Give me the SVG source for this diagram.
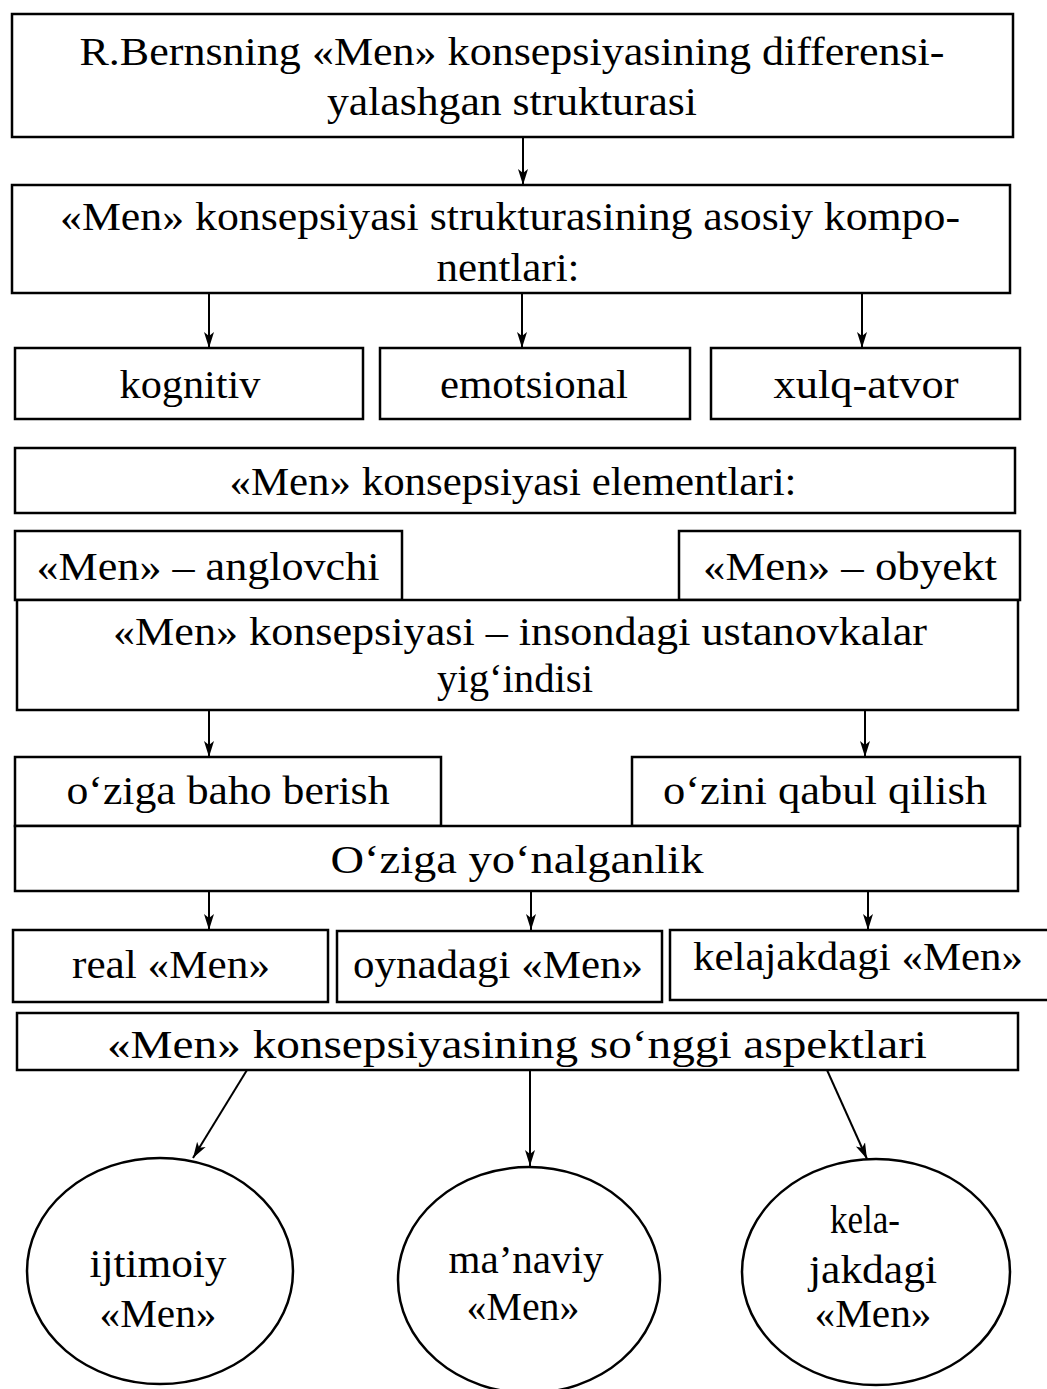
<svg xmlns="http://www.w3.org/2000/svg" width="1047" height="1389" viewBox="0 0 1047 1389">
<style>
.b{fill:#fff;stroke:#000;stroke-width:2.5}
.t{font-family:"Liberation Serif","Times New Roman",serif;font-size:41px;fill:#000;text-anchor:middle}
.c{stroke:#000;stroke-width:2;fill:none}
</style>
<defs>
<marker id="ah" markerUnits="userSpaceOnUse" markerWidth="16" markerHeight="16" refX="16" refY="8" orient="auto" viewBox="0 0 16 16">
<path d="M0,3 L16,8 L0,13 L4,8 Z" fill="#000"/>
</marker>
</defs>
<rect width="1047" height="1389" fill="#fff"/>
<g id="connectors">
<line class="c" x1="523" y1="137" x2="523" y2="185" marker-end="url(#ah)"/>
<line class="c" x1="209" y1="293" x2="209" y2="348" marker-end="url(#ah)"/>
<line class="c" x1="522" y1="293" x2="522" y2="348" marker-end="url(#ah)"/>
<line class="c" x1="862" y1="293" x2="862" y2="348" marker-end="url(#ah)"/>
<line class="c" x1="209" y1="710" x2="209" y2="757" marker-end="url(#ah)"/>
<line class="c" x1="865" y1="710" x2="865" y2="757" marker-end="url(#ah)"/>
<line class="c" x1="209" y1="891" x2="209" y2="930" marker-end="url(#ah)"/>
<line class="c" x1="531" y1="891" x2="531" y2="930" marker-end="url(#ah)"/>
<line class="c" x1="868" y1="891" x2="868" y2="930" marker-end="url(#ah)"/>
<line class="c" x1="247" y1="1070" x2="193" y2="1158" marker-end="url(#ah)"/>
<line class="c" x1="530" y1="1070" x2="530" y2="1166" marker-end="url(#ah)"/>
<line class="c" x1="827" y1="1070" x2="867" y2="1159" marker-end="url(#ah)"/>
</g>
<g id="n1"><rect class="b" x="12" y="14" width="1001" height="123"/>
<text class="t" x="512" y="65" textLength="865" lengthAdjust="spacingAndGlyphs">R.Bernsning «Men» konsepsiyasining differensi-</text>
<text class="t" x="512" y="115" textLength="370" lengthAdjust="spacingAndGlyphs">yalashgan strukturasi</text></g>
<g id="n2"><rect class="b" x="12" y="185" width="998" height="108"/>
<text class="t" x="510" y="230" textLength="900" lengthAdjust="spacingAndGlyphs">«Men» konsepsiyasi strukturasining asosiy kompo-</text>
<text class="t" x="508" y="281" textLength="143" lengthAdjust="spacingAndGlyphs">nentlari:</text></g>
<g id="n3"><rect class="b" x="15" y="348" width="348" height="71"/>
<text class="t" x="190" y="398" textLength="141" lengthAdjust="spacingAndGlyphs">kognitiv</text></g>
<g id="n4"><rect class="b" x="380" y="348" width="310" height="71"/>
<text class="t" x="534" y="398" textLength="188" lengthAdjust="spacingAndGlyphs">emotsional</text></g>
<g id="n5"><rect class="b" x="711" y="348" width="309" height="71"/>
<text class="t" x="866" y="398" textLength="185" lengthAdjust="spacingAndGlyphs">xulq-atvor</text></g>
<g id="n6"><rect class="b" x="15" y="448" width="1000" height="65"/>
<text class="t" x="513" y="495" textLength="567" lengthAdjust="spacingAndGlyphs">«Men» konsepsiyasi elementlari:</text></g>
<g id="n7"><rect class="b" x="15" y="531" width="387" height="69"/>
<text class="t" x="208" y="580" textLength="343" lengthAdjust="spacingAndGlyphs">«Men» – anglovchi</text></g>
<g id="n8"><rect class="b" x="679" y="531" width="341" height="69"/>
<text class="t" x="850" y="580" textLength="294" lengthAdjust="spacingAndGlyphs">«Men» – obyekt</text></g>
<g id="n9"><rect class="b" x="17" y="600" width="1001" height="110"/>
<text class="t" x="520" y="645" textLength="814" lengthAdjust="spacingAndGlyphs">«Men» konsepsiyasi – insondagi ustanovkalar</text>
<text class="t" x="515" y="692" textLength="156" lengthAdjust="spacingAndGlyphs">yig‘indisi</text></g>
<g id="n10"><rect class="b" x="15" y="757" width="426" height="69"/>
<text class="t" x="228" y="804" textLength="323" lengthAdjust="spacingAndGlyphs">o‘ziga baho berish</text></g>
<g id="n11"><rect class="b" x="632" y="757" width="388" height="69"/>
<text class="t" x="825" y="804" textLength="324" lengthAdjust="spacingAndGlyphs">o‘zini qabul qilish</text></g>
<g id="n12"><rect class="b" x="15" y="826" width="1003" height="65"/>
<text class="t" x="517" y="873" textLength="373" lengthAdjust="spacingAndGlyphs">O‘ziga yo‘nalganlik</text></g>
<g id="n13"><rect class="b" x="13" y="930" width="315" height="72"/>
<text class="t" x="171" y="978" textLength="198" lengthAdjust="spacingAndGlyphs">real «Men»</text></g>
<g id="n14"><rect class="b" x="337" y="931" width="325" height="71"/>
<text class="t" x="498" y="978" textLength="290" lengthAdjust="spacingAndGlyphs">oynadagi «Men»</text></g>
<g id="n15"><rect class="b" x="670" y="930" width="390" height="70"/>
<text class="t" x="858" y="970" textLength="330" lengthAdjust="spacingAndGlyphs">kelajakdagi «Men»</text></g>
<g id="n16"><rect class="b" x="17" y="1013" width="1001" height="57"/>
<text class="t" x="517" y="1058" textLength="820" lengthAdjust="spacingAndGlyphs">«Men» konsepsiyasining so‘nggi aspektlari</text></g>
<g id="n17"><ellipse class="b" cx="160" cy="1271" rx="133" ry="113"/>
<text class="t" x="158" y="1277" textLength="137" lengthAdjust="spacingAndGlyphs">ijtimoiy</text>
<text class="t" x="158" y="1327" textLength="117" lengthAdjust="spacingAndGlyphs">«Men»</text></g>
<g id="n18"><ellipse class="b" cx="529" cy="1280" rx="131" ry="113"/>
<text class="t" x="526" y="1273" textLength="155" lengthAdjust="spacingAndGlyphs">ma’naviy</text>
<text class="t" x="523" y="1320" textLength="113" lengthAdjust="spacingAndGlyphs">«Men»</text></g>
<g id="n19"><ellipse class="b" cx="876" cy="1272" rx="134" ry="113"/>
<text class="t" x="865" y="1233" textLength="70" lengthAdjust="spacingAndGlyphs">kela-</text>
<text class="t" x="873" y="1283" textLength="128" lengthAdjust="spacingAndGlyphs">jakdagi</text>
<text class="t" x="873" y="1327" textLength="117" lengthAdjust="spacingAndGlyphs">«Men»</text></g>
</svg>
